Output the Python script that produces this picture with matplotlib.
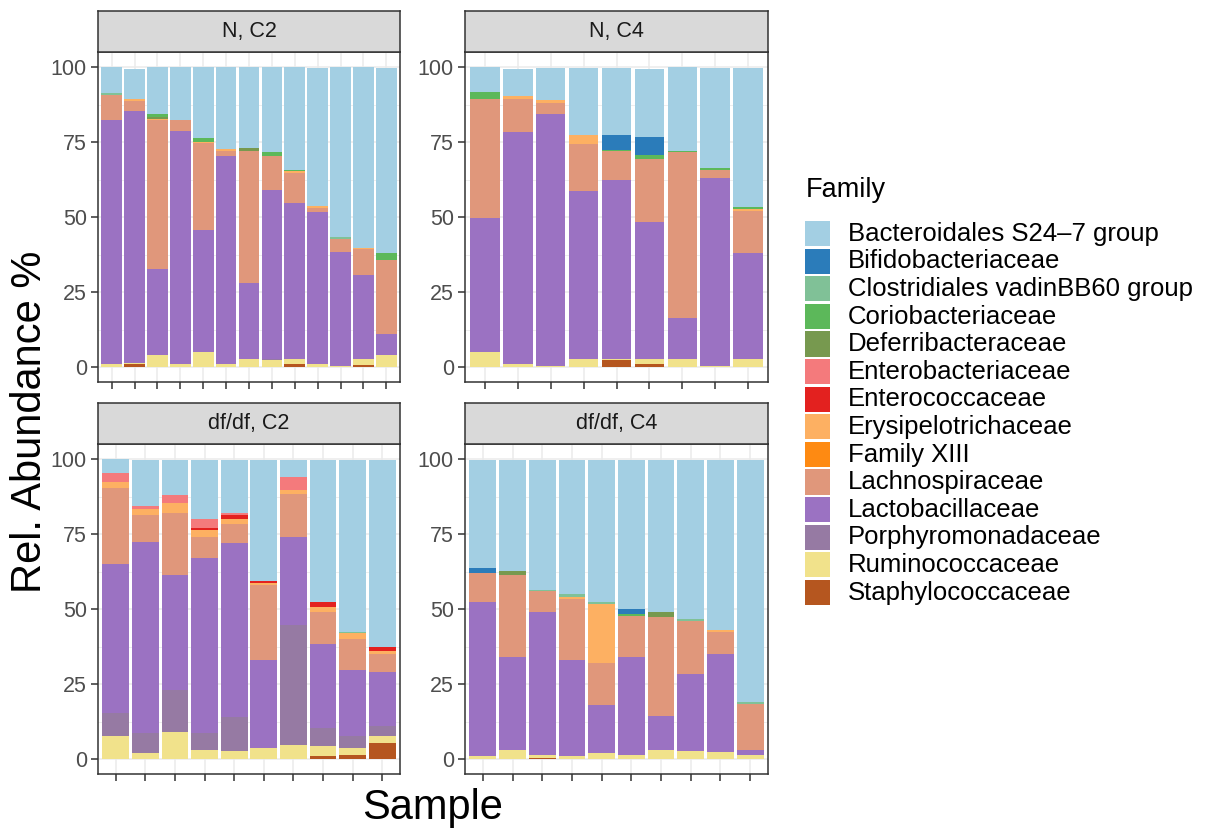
import numpy as np
import matplotlib.pyplot as plt
from matplotlib.patches import Rectangle

plt.rcParams['font.family'] = ['Liberation Sans', 'DejaVu Sans']

families = ["Bacteroidales S24\u20137 group", "Bifidobacteriaceae", "Clostridiales vadinBB60 group",
            "Coriobacteriaceae", "Deferribacteraceae", "Enterobacteriaceae", "Enterococcaceae",
            "Erysipelotrichaceae", "Family XIII", "Lachnospiraceae", "Lactobacillaceae",
            "Porphyromonadaceae", "Ruminococcaceae", "Staphylococcaceae"]
colors = ["#a3cfe3", "#2b7cba", "#80c197", "#5cb85a", "#77994f", "#f47a7c", "#e3211f",
          "#fdb062", "#fe8a12", "#e0977b", "#9b72c2", "#967aa3", "#f1e28b", "#b5561f"]

# one row per sample, columns follow the order of `families`
n_c2 = [
    [8.8, 0, 0.5, 0, 0, 0, 0, 0, 0, 8.5, 81.2, 0, 1.0, 0],
    [9.8, 0, 0, 0, 0, 0, 0, 0.6, 0, 3.5, 83.9, 0, 0.4, 1.0],
    [15.6, 0, 0, 1.1, 0.5, 0, 0, 0.5, 0, 49.6, 28.8, 0, 3.9, 0],
    [17.8, 0, 0, 0, 0, 0, 0, 0, 0, 3.6, 77.5, 0, 1.1, 0],
    [23.6, 0, 0, 1.4, 0, 0, 0, 0.4, 0, 28.9, 40.7, 0, 5.0, 0],
    [27.3, 0, 0, 0, 0, 0, 0, 0.8, 0, 1.4, 69.4, 0, 1.1, 0],
    [27.0, 0, 0, 0, 1.1, 0, 0, 0, 0, 43.8, 25.3, 0, 2.8, 0],
    [28.4, 0, 0, 1.1, 0, 0, 0, 0.3, 0, 11.3, 56.1, 0.4, 2.4, 0],
    [34.2, 0, 0, 0.6, 0, 0, 0, 0.6, 0, 10.0, 51.8, 0, 1.8, 1.0],
    [45.8, 0, 0, 0, 0, 0, 0, 0.7, 0, 1.3, 50.7, 0, 1.1, 0],
    [56.5, 0, 0.8, 0, 0, 0, 0, 0, 0, 4.5, 37.7, 0, 0.5, 0],
    [60.2, 0, 0, 0, 0, 0, 0, 0.6, 0, 8.5, 28.1, 0, 1.8, 0.8],
    [61.6, 0, 0, 2.4, 0, 0, 0, 0, 0, 24.6, 7.0, 0, 4.1, 0],
]
n_c4 = [
    [8.4, 0, 0, 2.4, 0, 0, 0, 0, 0, 39.4, 44.8, 0, 5.0, 0],
    [9.2, 0, 0, 0, 0, 0, 0, 0.9, 0, 11.0, 77.3, 0, 1.1, 0],
    [10.7, 0, 0, 0, 0, 0, 0, 0.8, 0, 3.9, 83.7, 0, 0.5, 0],
    [22.0, 0, 0, 0, 0, 0, 0, 3.1, 0, 15.6, 56.2, 0, 2.6, 0],
    [22.0, 5.0, 0, 0.6, 0, 0, 0, 0, 0, 9.5, 59.6, 0, 0.6, 2.2],
    [22.9, 5.8, 0, 1.3, 0, 0, 0, 0, 0, 21.0, 45.9, 0, 1.5, 1.1],
    [27.9, 0, 0, 0.4, 0, 0, 0, 0, 0, 55.5, 13.6, 0, 2.6, 0],
    [33.5, 0, 0, 0.5, 0, 0, 0, 0, 0, 2.8, 62.5, 0, 0.5, 0],
    [46.3, 0, 0, 0.8, 0, 0, 0, 0.6, 0, 14.0, 35.3, 0, 2.8, 0],
]
dfdf_c2 = [
    [4.8, 0, 0, 0, 0, 3.0, 0, 1.8, 0, 25.3, 49.7, 7.8, 7.6, 0],
    [15.3, 0, 0, 0, 0, 1.1, 0, 2.0, 0, 9.0, 63.6, 6.7, 2.0, 0],
    [11.8, 0, 0, 0, 0, 2.4, 0, 3.4, 0, 20.9, 38.3, 14.0, 8.9, 0],
    [19.8, 0, 0, 0, 0, 2.9, 0.8, 2.2, 0, 7.0, 58.3, 5.6, 3.1, 0],
    [17.7, 0, 0, 0, 0, 0.7, 1.2, 1.6, 0, 6.5, 57.9, 11.5, 2.6, 0],
    [40.2, 0, 0, 0, 0, 0, 0.9, 0.5, 0, 25.2, 29.2, 0, 3.7, 0],
    [5.6, 0, 0, 0, 0, 4.3, 0, 1.3, 0, 14.5, 29.4, 39.8, 4.8, 0],
    [47.5, 0, 0, 0, 0, 0, 1.6, 1.5, 0, 10.8, 27.9, 6.2, 3.1, 1.1],
    [57.3, 0, 0.5, 0, 0, 0, 0, 1.9, 0, 10.4, 21.8, 4.1, 2.2, 1.5],
    [62.5, 0, 0, 0, 0, 0, 1.2, 1.1, 0, 5.9, 18.1, 3.3, 2.2, 5.4],
]
dfdf_c4 = [
    [36.1, 1.5, 0, 0, 0, 0, 0, 0, 0, 9.6, 51.6, 0, 0.9, 0],
    [36.9, 0, 0, 0, 1.6, 0, 0, 0, 0, 27.2, 31.1, 0, 2.9, 0],
    [43.2, 0, 0.6, 0, 0, 0, 0, 0, 0, 6.8, 47.6, 0, 1.1, 0.4],
    [44.7, 0, 0.9, 0, 0, 0, 0, 0.6, 0, 20.5, 31.9, 0, 1.1, 0],
    [47.5, 0, 0.6, 0, 0, 0, 0, 19.5, 0, 14.2, 15.9, 0, 2.0, 0],
    [49.7, 1.5, 0, 0.8, 0, 0, 0, 0, 0, 13.7, 32.5, 0, 1.5, 0],
    [50.8, 0, 0, 0, 1.4, 0, 0, 0, 0, 33.0, 11.6, 0, 2.9, 0],
    [53.0, 0, 0.6, 0, 0, 0, 0, 0, 0, 17.6, 25.9, 0, 2.6, 0],
    [56.7, 0, 0, 0, 0, 0, 0, 0.8, 0, 7.3, 32.7, 0, 2.2, 0],
    [80.7, 0, 0.8, 0, 0, 0, 0, 0, 0, 15.1, 1.6, 0, 1.5, 0],
]
panel_titles = ["N, C2", "N, C4", "df/df, C2", "df/df, C4"]

W, H = 1207, 834
fig = plt.figure(figsize=(W / 100, H / 100), dpi=100)


def box(x0, y0, x1, y1):
    # pixel box (origin top-left) -> figure fraction
    return [x0 / W, 1 - y1 / H, (x1 - x0) / W, (y1 - y0) / H]


panels = [(n_c2, 98, 400, 52, 382), (n_c4, 465, 768, 52, 382),
          (dfdf_c2, 98, 400, 444, 774), (dfdf_c4, 465, 768, 444, 774)]

for (data, x0, x1, y0, y1), title in zip(panels, panel_titles):
    ax = fig.add_axes(box(x0, y0, x1, y1))
    vals = np.array(data, dtype=float)
    n = len(vals)
    x = np.arange(1, n + 1)
    bottom = np.zeros(n)
    # last family sits at the bottom of the stack
    for j in range(len(families) - 1, -1, -1):
        ax.bar(x, vals[:, j], width=0.9, bottom=bottom, color=colors[j], linewidth=0, zorder=3)
        bottom += vals[:, j]
    ax.set_xlim(0.4, n + 0.6)
    ax.set_ylim(-5, 105)
    ax.set_xticks(x)
    ax.set_xticklabels([])
    ax.set_yticks([0, 25, 50, 75, 100])
    ax.set_yticks([12.5, 37.5, 62.5, 87.5], minor=True)
    ax.set_yticklabels(["0", "25", "50", "75", "100"], fontsize=15.5, color="#4d4d4d")
    ax.grid(True, which="major", color="#ebebeb", linewidth=1.1, zorder=0)
    ax.grid(True, which="minor", axis="y", color="#ebebeb", linewidth=0.6, zorder=0)
    ax.tick_params(axis="both", which="major", length=5, width=1.1, color="#333333", pad=3)
    ax.tick_params(axis="y", which="minor", length=0)
    for sp in ax.spines.values():
        sp.set_color("#333333")
        sp.set_linewidth(1.1)

    sax = fig.add_axes(box(x0, y0 - 41, x1, y0))
    sax.set_facecolor("#d9d9d9")
    sax.set_xticks([])
    sax.set_yticks([])
    for sp in sax.spines.values():
        sp.set_color("#333333")
        sp.set_linewidth(1.1)
    sax.text(0.5, 0.5, title, ha="center", va="center", fontsize=15.5, color="#1a1a1a",
             transform=sax.transAxes)

fig.text(30 / W, 1 - 422 / H, "Rel. Abundance %", rotation=90, ha="center", va="center", fontsize=30)
fig.text(433 / W, 1 - 808 / H, "Sample", ha="center", va="center", fontsize=30)

# legend
fig.text(806 / W, 1 - 190 / H, "Family", ha="left", va="center", fontsize=19.5)
key_h = 27.6
for i, (fam, col) in enumerate(zip(families, colors)):
    top = 220 + i * key_h
    fig.add_artist(Rectangle((805 / W, 1 - (top + key_h - 1.5) / H), 25 / W, (key_h - 2.5) / H,
                             facecolor=col, edgecolor="none", transform=fig.transFigure))
    fig.text(848 / W, 1 - (top + key_h / 2) / H, fam, ha="left", va="center", fontsize=18.5)

fig.savefig("out.png", dpi=100)
